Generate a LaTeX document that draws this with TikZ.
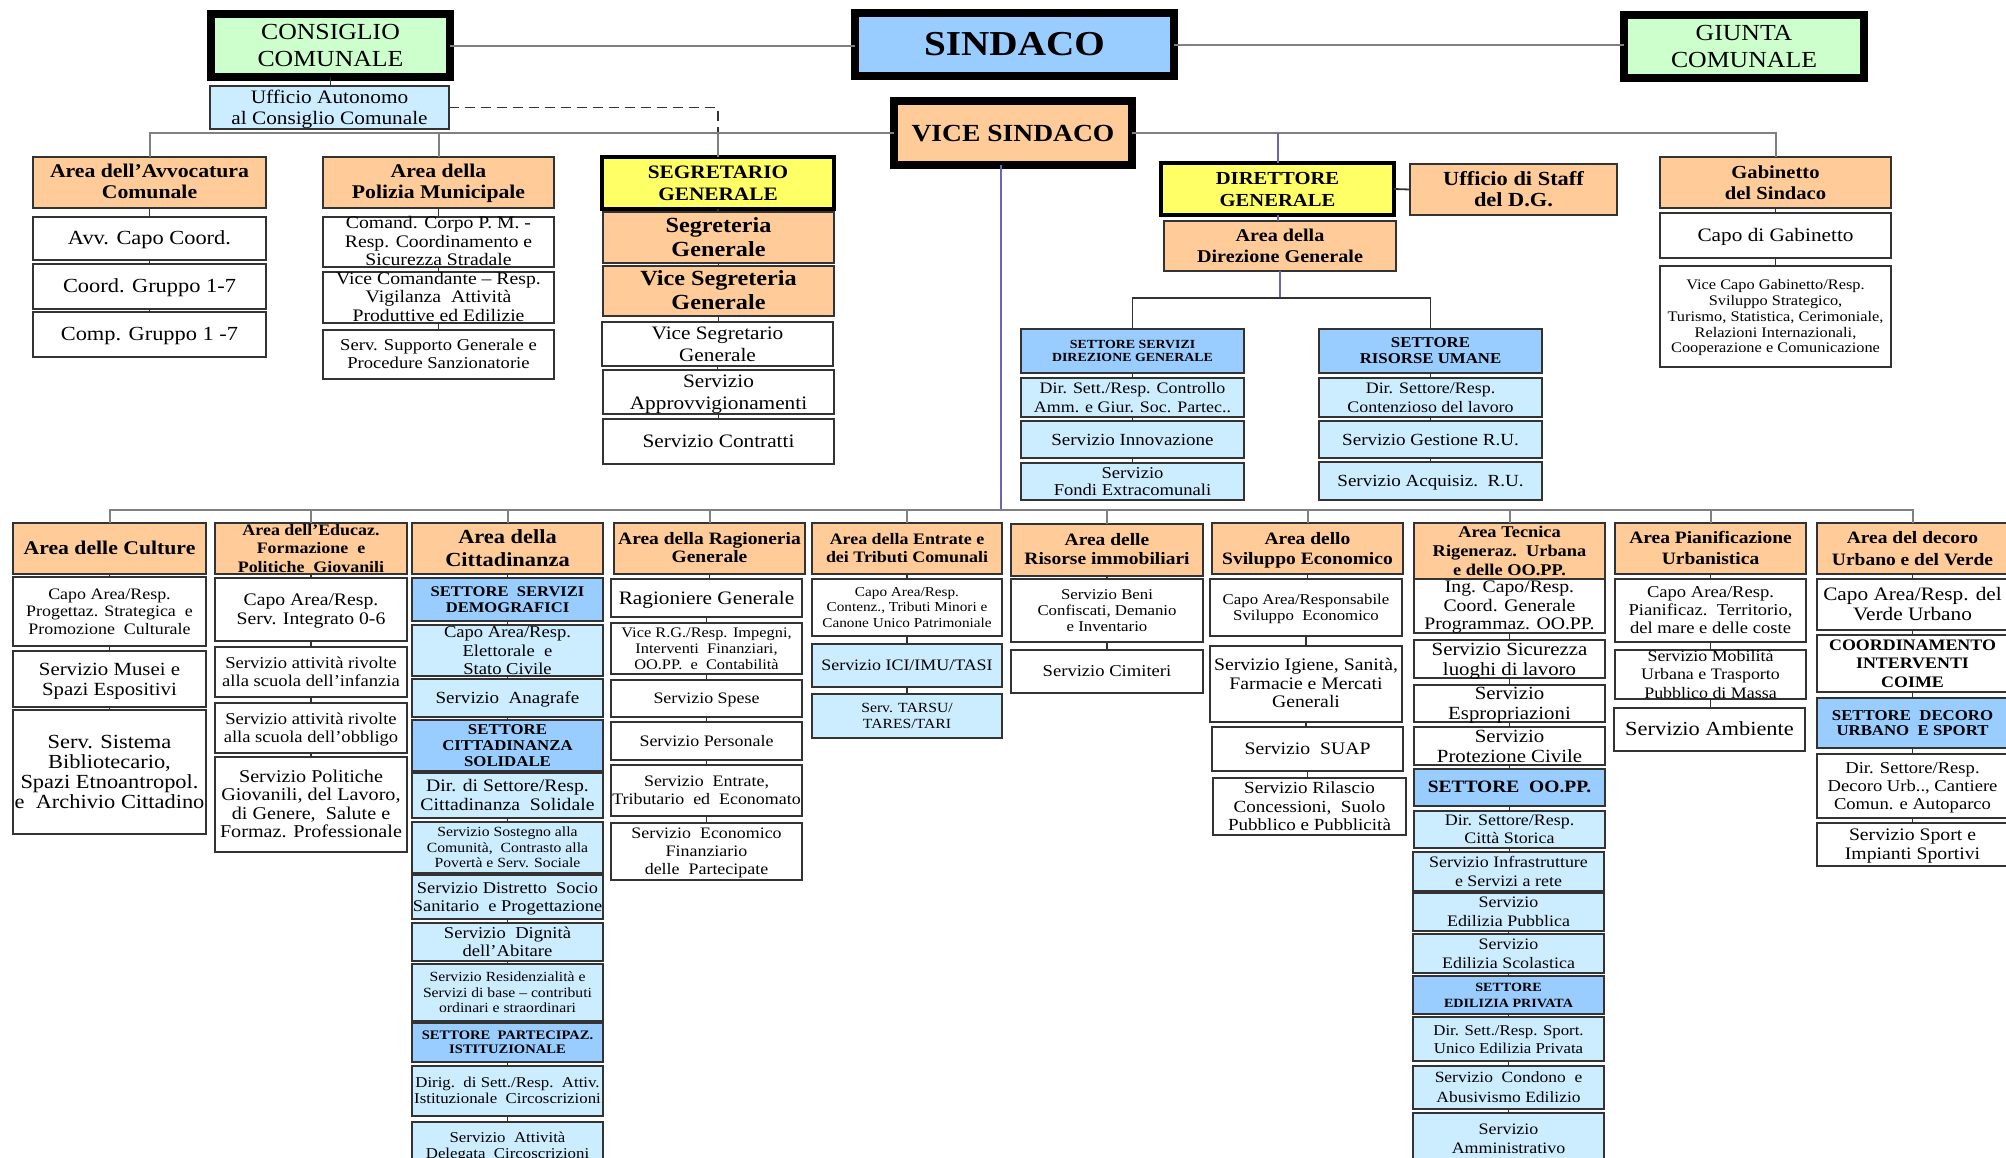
\documentclass[tikz,border=0pt]{standalone}
\usepackage{fontspec}
\setmainfont{Liberation Serif}[FakeStretch=1.12]
\usetikzlibrary{calc}
\definecolor{arancio}{RGB}{255,204,153}
\definecolor{verde}{RGB}{204,255,204}
\definecolor{azzurro}{RGB}{153,204,255}
\definecolor{celeste}{RGB}{204,236,255}
\definecolor{giallo}{RGB}{255,255,102}
\definecolor{linea}{RGB}{102,102,187}
\def\fs#1#2{\fontsize{#1}{#2}\selectfont}
\def\tx#1{\raisebox{-.35em}[0pt][0pt]{\makebox[0pt]{\begin{tabular}{@{}c@{}}#1\end{tabular}}}}
\def\bx[#1](#2)(#3,#4)(#5,#6)#7{\node[box,#1,minimum width={(#5-#3)*0.5pt},minimum height={(#6-#4)*0.5pt}] (#2) at (#3,#4) {\tx{#7}};}

\begin{document}
\begin{tikzpicture}[x=0.5pt,y=-0.5pt,
	box/.style={draw=black!80, line width=0.9pt, fill=white, inner sep=0pt, outer sep=0pt, anchor=north west, font=\fs{9.5}{10.8}},
	area/.style={fill=arancio, font=\bfseries\fs{9.7}{10.5}},
	sett/.style={fill=azzurro, font=\bfseries\fs{7.5}{8}},
	cel/.style={fill=celeste},
	capo/.style={draw=black, line width=4.3pt},
	gialla/.style={fill=giallo, draw=black, line width=1.6pt, font=\bfseries\fs{9.5}{10.8}},
	conn/.style={draw=black!50, line width=1pt},
	link/.style={draw=black!80, line width=0.9pt},
	blu/.style={draw=linea, line width=1pt}]
		%%%%% START %%%%%
		\useasboundingbox (0,0) rectangle (2006,1157);
		
		\bx[capo,fill=verde,font=\fs{11.5}{13.3}](cons)(211,14)(450,77){CONSIGLIO\\COMUNALE}
		\bx[capo,fill=azzurro,font=\bfseries\fs{17.5}{18}](sind)(855,13)(1174,76){SINDACO}
		\bx[capo,fill=verde,font=\fs{11.5}{13.3}](giunta)(1624,15)(1864,78){GIUNTA\\COMUNALE}
		\bx[cel](uff)(210,86)(449,129){Ufficio Autonomo\\al Consiglio Comunale}
		\bx[capo,fill=arancio,font=\bfseries\fs{12.3}{14}](vice)(894,101)(1132,165){VICE SINDACO}
		
		\bx[area](avv)(33,157)(266,208){Area dell’Avvocatura\\Comunale}
		\bx[font=\fs{10}{11}](avv1)(33,217)(266,260){Avv. Capo Coord.}
		\bx[font=\fs{10}{11}](avv2)(33,264)(266,309){Coord. Gruppo 1-7}
		\bx[font=\fs{10}{11}](avv3)(33,312)(266,357){Comp. Gruppo 1 -7}
		
		\bx[area](pol)(323,157)(554,208){Area della\\Polizia Municipale}
		\bx[font=\fs{8.8}{9.2}](pol1)(323,217)(554,267){Comand. Corpo P. M. -\\Resp. Coordinamento e\\Sicurezza Stradale}
		\bx[font=\fs{8.8}{9.2}](pol2)(323,272)(554,323){Vice Comandante – Resp.\\Vigilanza\ \ Attività\\Produttive ed Edilizie}
		\bx[font=\fs{8.3}{9}](pol3)(323,330)(554,379){Serv. Supporto Generale e\\Procedure Sanzionatorie}
		
		\bx[gialla](segr)(602,157)(834,209){SEGRETARIO\\GENERALE}
		\bx[area,font=\bfseries\fs{10.8}{12}](segr1)(603,212)(834,263){Segreteria\\Generale}
		\bx[area,font=\bfseries\fs{10.8}{12}](segr2)(603,266)(834,316){Vice Segreteria\\Generale}
		\bx[](segr3)(602,322)(833,366){Vice Segretario\\Generale}
		\bx[](segr4)(603,370)(834,414){Servizio\\Approvvigionamenti}
		\bx[](segr5)(603,419)(834,464){Servizio Contratti}
		
		\bx[gialla,font=\bfseries\fs{9.2}{10.8}](dg)(1161,163)(1394,215){DIRETTORE\\GENERALE}
		\bx[area,font=\bfseries\fs{9}{10.4}](adg)(1164,221)(1396,271){Area della\\Direzione Generale}
		\bx[area,font=\bfseries\fs{10}{10.8}](staff)(1410,164)(1617,215){Ufficio di Staff\\del D.G.}
		
		\bx[sett,font=\bfseries\fs{6.2}{6.7}](ssdg)(1021,329)(1244,373){SETTORE SERVIZI\\DIREZIONE GENERALE}
		\bx[cel,font=\fs{8}{9.5}](ssdg1)(1021,378)(1244,417){Dir. Sett./Resp. Controllo\\Amm. e Giur. Soc. Partec..}
		\bx[cel,font=\fs{8.5}{9.5}](ssdg2)(1021,421)(1244,458){Servizio Innovazione}
		\bx[cel,font=\fs{8.3}{8.8}](ssdg3)(1021,463)(1244,500){Servizio\\Fondi Extracomunali}
		
		\bx[sett](sru)(1319,329)(1542,373){SETTORE\\RISORSE UMANE}
		\bx[cel,font=\fs{8}{9.5}](sru1)(1319,378)(1542,417){Dir. Settore/Resp.\\Contenzioso del lavoro}
		\bx[cel,font=\fs{8.5}{9.5}](sru2)(1319,421)(1542,458){Servizio Gestione R.U.}
		\bx[cel,font=\fs{8.5}{9.5}](sru3)(1319,462)(1542,500){Servizio Acquisiz.\ \ R.U.}
		
		\bx[area,font=\bfseries\fs{9.2}{10.5}](gab)(1660,157)(1891,208){Gabinetto\\del Sindaco}
		\bx[](gab1)(1660,213)(1891,258){Capo di Gabinetto}
		\bx[font=\fs{7.3}{7.9}](gab2)(1660,266)(1891,367){Vice Capo Gabinetto/Resp.\\Sviluppo Strategico,\\Turismo, Statistica, Cerimoniale,\\Relazioni Internazionali,\\Cooperazione e Comunicazione}
		
		% aree in basso
		\bx[area](cul)(13,523)(206,574){Area delle Culture}
		\bx[font=\fs{8}{8.8}](cul1)(13,577)(206,646){Capo Area/Resp.\\Progettaz. Strategica\ \ e\\Promozione\ \ Culturale}
		\bx[font=\fs{9.3}{10}](cul2)(13,651)(206,707){Servizio Musei e\\Spazi Espositivi}
		\bx[font=\fs{10}{10}](cul3)(13,710)(206,834){Serv. Sistema\\Bibliotecario,\\Spazi Etnoantropol.\\e\ \ Archivio Cittadino}
		
		\bx[area,font=\bfseries\fs{8}{9.2}](edu)(215,523)(407,574){Area dell’Educaz.\\Formazione\ \ e\\Politiche\ \ Giovanili}
		\bx[font=\fs{8.8}{9.2}](edu1)(215,578)(407,641){Capo Area/Resp.\\Serv. Integrato 0-6}
		\bx[font=\fs{8.3}{9.2}](edu2)(215,647)(407,697){Servizio attività rivolte\\alla scuola dell’infanzia}
		\bx[font=\fs{8.3}{9.2}](edu3)(215,703)(407,753){Servizio attività rivolte\\alla scuola dell’obbligo}
		\bx[font=\fs{9}{9.2}](edu4)(215,757)(407,852){Servizio Politiche\\Giovanili, del Lavoro,\\di Genere,\ \ Salute e\\Formaz. Professionale}
		
		\bx[area,font=\bfseries\fs{10}{11.7}](cit)(412,523)(603,574){Area della\\Cittadinanza}
		\bx[sett,font=\bfseries\fs{7.4}{8}](cit1)(412,578)(603,621){SETTORE\ \ SERVIZI\\DEMOGRAFICI}
		\bx[cel,font=\fs{8.3}{9.2}](cit2)(412,625)(603,676){Capo Area/Resp.\\Elettorale\ \ e\\Stato Civile}
		\bx[cel,font=\fs{8.5}{9.2}](cit3)(412,679)(603,717){Servizio\ \ Anagrafe}
		\bx[sett](cit4)(412,720)(603,771){SETTORE\\CITTADINANZA\\SOLIDALE}
		\bx[cel,font=\fs{8.8}{9.2}](cit5)(412,773)(603,818){Dir. di Settore/Resp.\\Cittadinanza\ \ Solidale}
		\bx[cel,font=\fs{7}{7.8}](cit6)(412,822)(603,873){Servizio Sostegno alla\\Comunità,\ \ Contrasto alla\\Povertà e Serv. Sociale}
		\bx[cel,font=\fs{8.2}{9.2}](cit7)(412,875)(603,919){Servizio Distretto\ \ Socio\\Sanitario\ \ e Progettazione}
		\bx[cel,font=\fs{8.3}{9.2}](cit8)(412,923)(603,961){Servizio\ \ Dignità\\dell’Abitare}
		\bx[cel,font=\fs{7}{7.8}](cit9)(412,964)(603,1021){Servizio Residenzialità e\\Servizi di base – contributi\\ordinari e straordinari}
		\bx[sett,font=\bfseries\fs{6.5}{7}](cit10)(412,1023)(603,1062){SETTORE\ \ PARTECIPAZ.\\ISTITUZIONALE}
		\bx[cel,font=\fs{7.5}{8}](cit11)(412,1066)(603,1116){Dirig.\ \ di Sett./Resp.\ \ Attiv.\\Istituzionale\ \ Circoscrizioni}
		\bx[cel,font=\fs{7.5}{8}](cit12)(412,1122)(603,1170){Servizio\ \ Attività\\Delegata\ \ Circoscrizioni}
		
		\bx[area,font=\bfseries\fs{8.7}{8.8}](rag)(614,523)(805,574){Area della Ragioneria\\Generale}
		\bx[](rag1)(611,579)(802,617){Ragioniere Generale}
		\bx[font=\fs{7.3}{8}](rag2)(611,623)(802,674){Vice R.G./Resp. Impegni,\\Interventi\ \ Finanziari,\\OO.PP.\ \ e\ \ Contabilità}
		\bx[font=\fs{8}{9}](rag3)(611,680)(802,717){Servizio Spese}
		\bx[font=\fs{8}{9}](rag4)(611,722)(802,760){Servizio Personale}
		\bx[font=\fs{8}{9.2}](rag5)(611,765)(802,816){Servizio\ \ Entrate,\\Tributario\ \ ed\ \ Economato}
		\bx[font=\fs{8}{9}](rag6)(611,823)(802,880){Servizio\ \ Economico\\Finanziario\\delle\ \ Partecipate}
		
		\bx[area,font=\bfseries\fs{8}{9.2}](ent)(812,523)(1002,574){Area della Entrate e\\dei Tributi Comunali}
		\bx[font=\fs{6.8}{7.8}](ent1)(812,579)(1002,636){Capo Area/Resp.\\Contenz., Tributi Minori e\\Canone Unico Patrimoniale}
		\bx[cel,font=\fs{8}{9}](ent2)(812,644)(1002,687){Servizio ICI/IMU/TASI}
		\bx[cel,font=\fs{7}{8}](ent3)(812,694)(1002,738){Serv. TARSU/\\TARES/TARI}
		
		\bx[area,font=\bfseries\fs{8.7}{9.5}](imm)(1011,524)(1203,576){Area delle\\Risorse immobiliari}
		\bx[font=\fs{7.5}{8}](imm1)(1011,579)(1203,642){Servizio Beni\\Confiscati, Demanio\\e Inventario}
		\bx[font=\fs{8.3}{9}](imm2)(1011,650)(1203,693){Servizio Cimiteri}
		
		\bx[area,font=\bfseries\fs{8.7}{10}](svi)(1212,523)(1403,574){Area dello\\Sviluppo Economico}
		\bx[font=\fs{7.5}{7.8}](svi1)(1210,579)(1402,636){Capo Area/Responsabile\\Sviluppo\ \ Economico}
		\bx[font=\fs{8.8}{9.2}](svi2)(1210,646)(1402,722){Servizio Igiene, Sanità,\\Farmacie e Mercati\\Generali}
		\bx[font=\fs{8.8}{9.2}](svi3)(1212,727)(1403,771){Servizio\ \ SUAP}
		\bx[font=\fs{8.5}{9.2}](svi4)(1213,778)(1406,835){Servizio Rilascio\\Concessioni,\ \ Suolo\\Pubblico e Pubblicità}
		
		\bx[area,font=\bfseries\fs{8.2}{9.5}](tec)(1414,523)(1605,579){Area Tecnica\\Rigeneraz.\ \ Urbana\\e delle OO.PP.}
		\bx[font=\fs{8.8}{9.2}](tec1)(1414,579)(1605,633){Ing. Capo/Resp.\\Coord. Generale\\Programmaz. OO.PP.}
		\bx[font=\fs{9.3}{10}](tec2)(1414,640)(1605,678){Servizio Sicurezza\\luoghi di lavoro}
		\bx[font=\fs{9.3}{10}](tec3)(1414,685)(1605,722){Servizio\\Espropriazioni}
		\bx[font=\fs{9.3}{10}](tec4)(1414,727)(1605,765){Servizio\\Protezione Civile}
		\bx[sett,font=\bfseries\fs{8.7}{9}](tec5)(1414,769)(1605,806){SETTORE\ \ OO.PP.}
		\bx[cel,font=\fs{8}{8.8}](tec6)(1414,811)(1605,848){Dir. Settore/Resp.\\Città Storica}
		\bx[cel,font=\fs{8}{9.5}](tec7)(1413,852)(1604,891){Servizio Infrastrutture\\e Servizi a rete}
		\bx[cel,font=\fs{8}{9.5}](tec8)(1413,893)(1604,931){Servizio\\Edilizia Pubblica}
		\bx[cel,font=\fs{8}{9.5}](tec9)(1413,934)(1604,973){Servizio\\Edilizia Scolastica}
		\bx[sett,font=\bfseries\fs{6.3}{8}](tec10)(1413,976)(1604,1014){SETTORE\\EDILIZIA PRIVATA}
		\bx[cel,font=\fs{7.5}{9}](tec11)(1413,1017)(1604,1061){Dir. Sett./Resp. Sport.\\Unico Edilizia Privata}
		\bx[cel,font=\fs{7.8}{10}](tec12)(1413,1066)(1604,1109){Servizio\ \ Condono\ \ e\\Abusivismo Edilizio}
		\bx[cel,font=\fs{8}{9.5}](tec13)(1413,1113)(1604,1165){Servizio\\Amministrativo}
		
		\bx[area,font=\bfseries\fs{8.7}{10.3}](pia)(1615,523)(1806,574){Area Pianificazione\\Urbanistica}
		\bx[font=\fs{8.3}{9}](pia1)(1615,579)(1806,642){Capo Area/Resp.\\Pianificaz.\ \ Territorio,\\del mare e delle coste}
		\bx[font=\fs{8}{9.3}](pia2)(1615,650)(1806,699){Servizio Mobilità\\Urbana e Trasporto\\Pubblico di Massa}
		\bx[font=\fs{10}{10}](pia3)(1614,708)(1805,751){Servizio Ambiente}
		
		\bx[area,font=\bfseries\fs{8.7}{10.8}](dec)(1817,523)(2008,574){Area del decoro\\Urbano e del Verde}
		\bx[font=\fs{9.5}{9.8}](dec1)(1817,579)(2008,630){Capo Area/Resp. del\\Verde Urbano}
		\bx[font=\bfseries\fs{8}{9.4}](dec2)(1817,635)(2008,692){COORDINAMENTO\\INTERVENTI\\COIME}
		\bx[sett,font=\bfseries\fs{7.5}{7.7}](dec3)(1817,698)(2008,748){SETTORE\ \ DECORO\\URBANO\ \ E SPORT}
		\bx[font=\fs{8.3}{9}](dec4)(1817,754)(2008,818){Dir. Settore/Resp.\\Decoro Urb.., Cantiere\\Comun. e Autoparco}
		\bx[font=\fs{8.8}{9.5}](dec5)(1817,823)(2008,866){Servizio Sport e\\Impianti Sportivi}
		
		% collegamenti in alto
		\draw[conn] (cons.east) -- (cons.east -| sind.west);
		\draw[conn] (sind.east) -- (sind.east -| giunta.west);
		\draw[link] (cons.south) -- (cons.south |- uff.north);
		\draw[link, dash pattern=on 5pt off 3pt] (uff.east) -| (segr.north);
		\draw[conn] (avv.north) |- (vice.west);
		\draw[conn] (pol.north) -- (pol.north |- vice.west);
		\draw[conn] (segr.north) -- (segr.north |- vice.west);
		\draw[conn] (vice.east) -| (gab.north);
		\draw[blu] (dg.north) -- (dg.north |- vice.east);
		\draw[blu] (dg.south) -- (dg.south |- adg.north);
		\draw[link] (dg.east) -- (staff.west);
		\coordinate (dgb) at (1280,298);
		\draw[blu] (adg.south) -- (adg.south |- dgb);
		\draw[link] (ssdg.north) |- (dgb) -| (sru.north);
		
		% collegamenti in basso
		\coordinate (lb) at (1001,510);
		\draw[blu] (vice.south -| lb) -- (lb);
		\draw[conn] (cul.north) |- (lb) -| (dec.north);
		\foreach \h in {edu,cit,rag,ent,imm,svi,tec,pia}
			\draw[conn] (\h.north) -- (\h.north |- lb);
		
		\foreach \a/\b in {avv/avv1,avv1/avv2,avv2/avv3,pol/pol1,pol1/pol2,pol2/pol3,
			segr/segr1,segr1/segr2,segr2/segr3,segr3/segr4,segr4/segr5,
			ssdg/ssdg1,ssdg1/ssdg2,ssdg2/ssdg3,sru/sru1,sru1/sru2,sru2/sru3,gab/gab1,gab1/gab2,
			cul/cul1,cul1/cul2,cul2/cul3,edu/edu1,edu1/edu2,edu2/edu3,edu3/edu4,
			cit/cit1,cit1/cit2,cit2/cit3,cit3/cit4,cit4/cit5,cit5/cit6,cit6/cit7,cit7/cit8,
			cit8/cit9,cit9/cit10,cit10/cit11,cit11/cit12,
			rag/rag1,rag1/rag2,rag2/rag3,rag3/rag4,rag4/rag5,rag5/rag6,
			ent/ent1,ent1/ent2,ent2/ent3,imm/imm1,imm1/imm2,
			svi/svi1,svi1/svi2,svi2/svi3,svi3/svi4,
			tec1/tec2,tec2/tec3,tec3/tec4,tec4/tec5,tec5/tec6,tec6/tec7,
			tec7/tec8,tec8/tec9,tec9/tec10,tec10/tec11,tec11/tec12,tec12/tec13,
			pia/pia1,pia1/pia2,pia2/pia3,dec/dec1,dec1/dec2,dec2/dec3,dec3/dec4,dec4/dec5}
			\draw[link] (\a.south) -- (\a.south |- \b.north);
		
		%%%%% END %%%%%
	\end{tikzpicture}
\end{document}
